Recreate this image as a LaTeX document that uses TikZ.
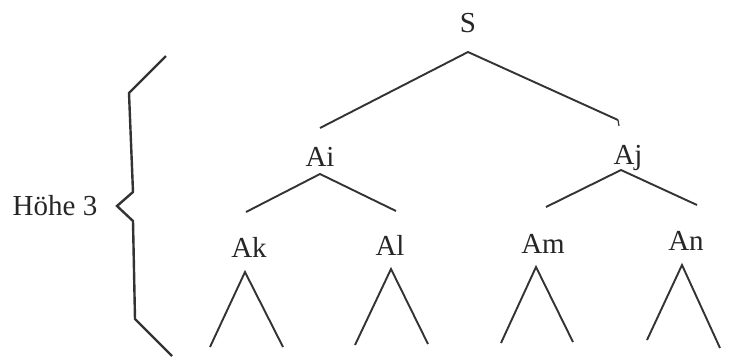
\documentclass[tikz,border=0pt]{standalone}
\usepackage{fontspec}
\setmainfont{Liberation Serif}
\begin{document}
\begin{tikzpicture}[x=1pt,y=-1pt,
  lbl/.style={font=\fontsize{29}{33}\selectfont, text=black!85, anchor=base, inner sep=0pt},
  edge/.style={draw=black!80, line width=1.9pt, line join=miter}]
% canvas
\fill[white] (0,0) rectangle (740,360);
\useasboundingbox (0,0) rectangle (740,360);

% labels
\node[lbl] (S)  at (468,32)  {S};
\node[lbl] (Ai) at (320,166) {Ai};
\node[lbl] (Aj) at (628,164) {Aj};
\node[lbl] (Ak) at (249,257) {Ak};
\node[lbl] (Al) at (390,255) {Al};
\node[lbl] (Am) at (543,253) {Am};
\node[lbl] (An) at (686,250) {An};
\node[lbl] (H)  at (55,215)  {Höhe 3};

% branch points
\coordinate (s0) at (468,52);
\coordinate (s1) at (320,128);
\coordinate (s2) at (618,120);
\coordinate (s2t) at (619,126);
\coordinate (i0) at (320,174);
\coordinate (i1) at (246,212);
\coordinate (i2) at (396,211);
\coordinate (j0) at (621,170);
\coordinate (j1) at (546,207);
\coordinate (j2) at (697,205);
\coordinate (k0) at (245,272);
\coordinate (k1) at (210,347);
\coordinate (k2) at (283,347);
\coordinate (l0) at (391,269);
\coordinate (l1) at (355,345);
\coordinate (l2) at (428,344);
\coordinate (m0) at (536,267);
\coordinate (m1) at (501,343);
\coordinate (m2) at (573,342);
\coordinate (n0) at (682,265);
\coordinate (n1) at (647,340);
\coordinate (n2) at (720,348);

% tree edges
\draw[edge] (s1) -- (s0) -- (s2);
\draw[draw=black!80, line width=1.2pt] (s2) -- (s2t);
\draw[edge] (i1) -- (i0) -- (i2);
\draw[edge] (j1) -- (j0) -- (j2);
\draw[edge] (k1) -- (k0) -- (k2);
\draw[edge] (l1) -- (l0) -- (l2);
\draw[edge] (m1) -- (m0) -- (m2);
\draw[edge] (n1) -- (n0) -- (n2);

% height brace
\coordinate (b0) at (166,56);
\coordinate (b1) at (129,93);
\coordinate (b2) at (133,192);
\coordinate (bt) at (117,206);
\coordinate (b3) at (133,221);
\coordinate (b4) at (135,319);
\coordinate (b5) at (172,356);
\draw[edge, line width=2.4pt] (b0) -- (b1) -- (b2) -- (bt) -- (b3) -- (b4) -- (b5);
\end{tikzpicture}
\end{document}
